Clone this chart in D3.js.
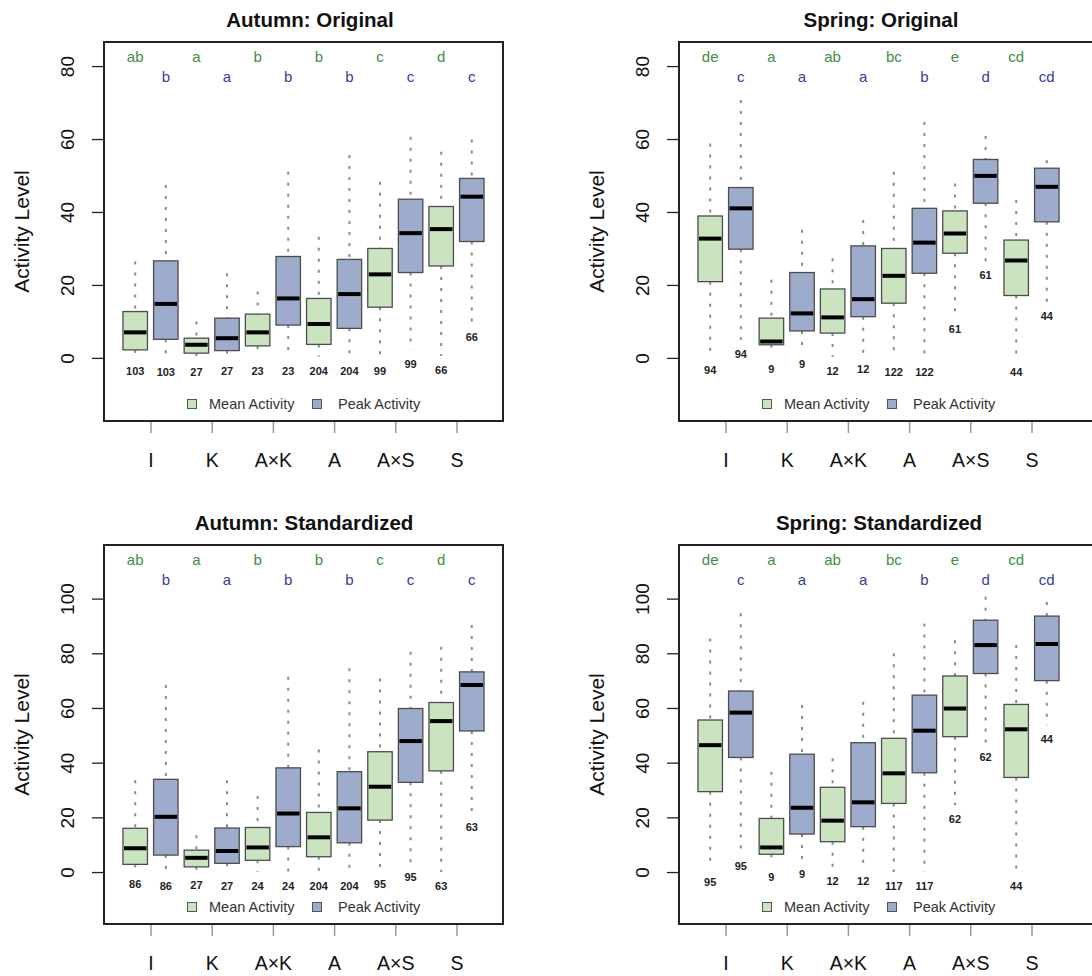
<!DOCTYPE html>
<html>
<head>
<meta charset="utf-8">
<script src="https://cdn.jsdelivr.net/npm/d3@7"></script>
<style>
  body { margin: 0; background: #fff; }
  svg { display: block; font-family: "Liberation Sans", Arial, Helvetica, sans-serif; }
</style>
</head>
<body>
<script>
// categories on the x axis (two boxes each: mean, peak)
const categories = ["I", "K", "A\u00d7K", "A", "A\u00d7S", "S"];
const seriesNames = ["Mean Activity", "Peak Activity"];

// box stats per box: [lower whisker, Q1, median, Q3, upper whisker]
const autumnOriginal = [
  [0.3, 2.2, 7.0, 12.7, 26.4], [0, 5.1, 14.8, 26.6, 47.4],
  [0, 1.3, 3.6, 5.4, 10.0], [0.3, 2.0, 5.4, 10.9, 23.2],
  [0.3, 3.3, 7.0, 12.0, 18.2], [0.3, 9.0, 16.3, 27.8, 51.0],
  [0.3, 3.7, 9.3, 16.3, 33.2], [0.3, 8.1, 17.5, 27.0, 55.6],
  [0.3, 13.9, 22.9, 30.0, 48.3], [2.2, 23.4, 34.2, 43.5, 60.6],
  [0.5, 25.2, 35.3, 41.5, 56.5], [9.5, 31.9, 44.2, 49.2, 59.9]
];
const springOriginal = [
  [0.5, 20.9, 32.7, 38.9, 58.8], [4.9, 29.8, 41.0, 46.7, 70.7],
  [0.8, 3.6, 4.5, 10.9, 21.4], [2.2, 7.4, 12.2, 23.4, 35.1],
  [0.3, 6.8, 11.1, 18.9, 27.3], [0.8, 11.3, 16.1, 30.7, 37.8],
  [0, 15.0, 22.5, 30.0, 51.0], [0, 23.2, 31.6, 41.0, 64.7],
  [11.8, 28.7, 34.1, 40.3, 47.8], [26.5, 42.4, 49.9, 54.4, 60.8],
  [0, 17.1, 26.7, 32.3, 43.3], [15.4, 37.3, 46.9, 52.0, 54.2]
];
const autumnStandardized = [
  [0.6, 2.8, 8.7, 16.0, 33.6], [0, 6.2, 20.2, 33.9, 68.4],
  [0.3, 1.9, 5.2, 8.0, 13.5], [0, 3.2, 7.7, 16.1, 33.6],
  [0, 4.3, 9.0, 16.3, 27.8], [0, 9.3, 21.4, 38.1, 71.4],
  [0, 5.6, 12.7, 21.8, 44.8], [0, 10.7, 23.3, 36.7, 74.5],
  [0.6, 19.0, 31.2, 44.0, 70.8], [3.2, 32.8, 47.9, 59.8, 80.6],
  [0, 37.0, 55.2, 62.0, 82.4], [21.5, 51.6, 68.4, 73.2, 90.3]
];
const springStandardized = [
  [1.3, 29.4, 46.4, 55.6, 85.4], [7.1, 41.9, 58.3, 66.2, 94.6],
  [3.2, 6.5, 9.0, 19.6, 36.7], [4.4, 13.9, 23.5, 43.1, 61.1],
  [1.9, 11.1, 18.8, 31.0, 41.6], [1.9, 16.6, 25.5, 47.3, 62.3],
  [0, 25.1, 36.1, 48.9, 80.0], [0, 36.3, 51.7, 64.7, 90.9],
  [24.5, 49.5, 59.8, 71.7, 84.8], [47.0, 72.6, 83.0, 92.1, 100.7],
  [0, 34.6, 52.2, 61.3, 83.0], [53.7, 70.0, 83.4, 93.6, 98.8]
];

// sample sizes printed under each box
const autumnOriginalN = [103, 103, 27, 27, 23, 23, 204, 204, 99, 99, 66, 66];
const springOriginalN = [94, 94, 9, 9, 12, 12, 122, 122, 61, 61, 44, 44];
const autumnStandardizedN = [86, 86, 27, 27, 24, 24, 204, 204, 95, 95, 63, 63];
const springStandardizedN = [95, 95, 9, 9, 12, 12, 117, 117, 62, 62, 44, 44];

// significance letters (mean row, peak row)
const autumnMeanLetters = ["ab", "a", "b", "b", "c", "d"];
const autumnPeakLetters = ["b", "a", "b", "b", "c", "c"];
const springMeanLetters = ["de", "a", "ab", "bc", "e", "cd"];
const springPeakLetters = ["c", "a", "a", "b", "d", "cd"];

// y tick labels
const originalTicks = [0, 20, 40, 60, 80];
const standardizedTicks = [0, 20, 40, 60, 80, 100];

const width = 1092, height = 976;
const fillMean = "#c9e4bf", fillPeak = "#9dabcd";
const letterMean = "#3f8f3f", letterPeak = "#3a3a9e";

const svg = d3.select("body").append("svg")
  .attr("width", width)
  .attr("height", height);

const panels = [
  { title: "Autumn: Original", stats: autumnOriginal, n: autumnOriginalN, meanL: autumnMeanLetters, peakL: autumnPeakLetters,
    ticks: originalTicks, left: 104, right: 503, top: 42, bottom: 421, yDomain: [-17.3, 86.6], titleX: 310 },
  { title: "Spring: Original", stats: springOriginal, n: springOriginalN, meanL: springMeanLetters, peakL: springPeakLetters,
    ticks: originalTicks, left: 679, right: 1110, top: 42, bottom: 421, yDomain: [-17.3, 86.6], titleX: 881 },
  { title: "Autumn: Standardized", stats: autumnStandardized, n: autumnStandardizedN, meanL: autumnMeanLetters, peakL: autumnPeakLetters,
    ticks: standardizedTicks, left: 104, right: 503, top: 545, bottom: 924, yDomain: [-19.0, 119.6], titleX: 304 },
  { title: "Spring: Standardized", stats: springStandardized, n: springStandardizedN, meanL: springMeanLetters, peakL: springPeakLetters,
    ticks: standardizedTicks, left: 679, right: 1110, top: 545, bottom: 924, yDomain: [-19.0, 119.6], titleX: 879 }
];

panels.forEach(p => {
  const g = svg.append("g");

  // R style: boxes at 1..12, xlim 0.5..12.5 widened by 4%
  const x = d3.scaleLinear().domain([-0.02, 13.02]).range([p.left, p.left + 399]);
  const y = d3.scaleLinear().domain(p.yDomain).range([p.bottom, p.top]);
  const boxW = x(0.8) - x(0);

  // title
  g.append("text")
    .attr("x", p.titleX)
    .attr("y", p.top - 15)
    .attr("text-anchor", "middle")
    .style("font-size", "20.5px")
    .style("font-weight", "bold")
    .attr("fill", "#111")
    .text(p.title);

  // y axis
  const yAxis = g.append("g")
    .attr("transform", `translate(${p.left},0)`)
    .call(d3.axisLeft(y).tickValues(p.ticks).tickSize(12).tickFormat(d3.format("d")));
  yAxis.select(".domain").remove();
  yAxis.selectAll("line").attr("stroke", "#222").attr("stroke-width", 1.3);
  yAxis.selectAll("text")
    .attr("x", null).attr("dy", "0.35em")
    .attr("transform", "translate(-37,0) rotate(-90)")
    .attr("text-anchor", "middle")
    .attr("fill", "#111")
    .style("font-size", "19px")
    .style("font-family", null);

  g.append("text")
    .attr("transform", `translate(${p.left - 82},${(p.top + p.bottom) / 2}) rotate(-90)`)
    .attr("dy", "0.35em")
    .attr("text-anchor", "middle")
    .style("font-size", "21px")
    .attr("fill", "#111")
    .text("Activity Level");

  // x axis, one tick between each mean/peak pair
  const xAxis = g.append("g")
    .attr("transform", `translate(0,${p.bottom})`)
    .call(d3.axisBottom(x)
      .tickValues(categories.map((c, i) => 2 * i + 1.5))
      .tickFormat((d, i) => categories[i])
      .tickSize(12)
      .tickPadding(20));
  xAxis.select(".domain").remove();
  xAxis.selectAll("line").attr("stroke", "#999").attr("stroke-width", 1.5);
  xAxis.selectAll("text")
    .attr("fill", "#111")
    .style("font-size", "19.5px")
    .style("font-family", null);

  // boxes
  const boxes = g.selectAll(".box")
    .data(p.stats)
    .enter()
    .append("g")
    .attr("class", "box");

  boxes.append("line")
    .attr("x1", (d, i) => x(i + 1)).attr("x2", (d, i) => x(i + 1))
    .attr("y1", d => y(d[4])).attr("y2", d => y(d[3]))
    .attr("stroke", "#8a8a8a").attr("stroke-width", 2)
    .attr("stroke-dasharray", "3,8");

  boxes.append("line")
    .attr("x1", (d, i) => x(i + 1)).attr("x2", (d, i) => x(i + 1))
    .attr("y1", d => y(d[1])).attr("y2", d => y(d[0]))
    .attr("stroke", "#8a8a8a").attr("stroke-width", 2)
    .attr("stroke-dasharray", "3,8");

  boxes.append("rect")
    .attr("x", (d, i) => x(i + 1) - boxW / 2)
    .attr("y", d => y(d[3]))
    .attr("width", boxW)
    .attr("height", d => y(d[1]) - y(d[3]))
    .attr("fill", (d, i) => i % 2 === 0 ? fillMean : fillPeak)
    .attr("stroke", "#4d4d4d")
    .attr("stroke-width", 1.3);

  boxes.append("line")
    .attr("x1", (d, i) => x(i + 1) - boxW / 2 + 1).attr("x2", (d, i) => x(i + 1) + boxW / 2 - 1)
    .attr("y1", d => y(d[2])).attr("y2", d => y(d[2]))
    .attr("stroke", "#000").attr("stroke-width", 4);

  // sample sizes
  boxes.append("text")
    .attr("x", (d, i) => x(i + 1))
    .attr("y", d => y(d[0]) + 14)
    .attr("dy", "0.35em")
    .attr("text-anchor", "middle")
    .style("font-size", "11px")
    .style("font-weight", "bold")
    .attr("fill", "#222")
    .text((d, i) => p.n[i]);

  // significance letters
  g.selectAll(".lm")
    .data(p.meanL)
    .enter()
    .append("text")
    .attr("x", (d, i) => x(2 * i + 1))
    .attr("y", p.top + 15)
    .attr("dy", "0.35em")
    .attr("text-anchor", "middle")
    .style("font-size", "15px")
    .attr("fill", letterMean)
    .text(d => d);

  g.selectAll(".lp")
    .data(p.peakL)
    .enter()
    .append("text")
    .attr("x", (d, i) => x(2 * i + 2))
    .attr("y", p.top + 35)
    .attr("dy", "0.35em")
    .attr("text-anchor", "middle")
    .style("font-size", "15px")
    .attr("fill", letterPeak)
    .text(d => d);

  // legend
  const legY = p.bottom - 17;
  const leg = g.selectAll(".leg")
    .data(seriesNames)
    .enter()
    .append("g")
    .attr("transform", (d, i) => `translate(${p.left + 88 + i * 125},${legY})`);
  leg.append("rect")
    .attr("x", -4.5).attr("y", -4.5)
    .attr("width", 9).attr("height", 9)
    .attr("fill", (d, i) => i === 0 ? fillMean : fillPeak)
    .attr("stroke", "#555").attr("stroke-width", 1);
  leg.append("text")
    .attr("x", (d, i) => i === 0 ? 17 : 21)
    .attr("dy", "0.35em")
    .style("font-size", "14.5px")
    .attr("fill", "#333")
    .text(d => d);

  // frame
  g.append("rect")
    .attr("x", p.left).attr("y", p.top)
    .attr("width", p.right - p.left).attr("height", p.bottom - p.top)
    .attr("fill", "none")
    .attr("stroke", "#222")
    .attr("stroke-width", 2);
});
</script>
</body>
</html>
